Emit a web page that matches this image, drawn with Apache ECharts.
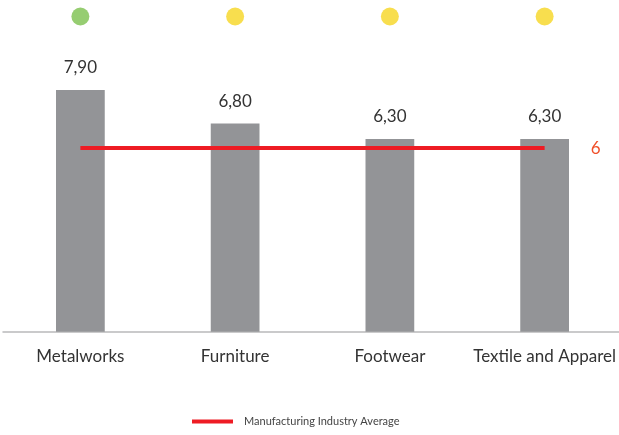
<!DOCTYPE html>
<html><head><meta charset="utf-8">
<script src="https://cdn.jsdelivr.net/npm/echarts@6/dist/echarts.min.js"></script>
<style>html,body{margin:0;padding:0;background:#fff}#c{width:619px;height:435px}</style>
</head><body><div id="c"></div>
<script>
const categories = ["Metalworks", "Furniture", "Footwear", "Textile and Apparel"];
const scores = [7.9, 6.8, 6.3, 6.3];
const industryAverage = [6, 6, 6, 6];
const statusColors = ["#7cc04e", "#f6d622", "#f6d622", "#f6d622"];
const statusLevel = [1, 1, 1, 1];
const averageName = "Manufacturing Industry Average";

const FONT = "Lato, 'Noto Sans', sans-serif";
const chart = echarts.init(document.getElementById('c'), null, {renderer: 'canvas'});
chart.setOption({
  animation: false,
  backgroundColor: '#ffffff',
  textStyle: {fontFamily: FONT},
  grid: {left: 3, width: 619, top: 16.5, bottom: 103.3, containLabel: false, outerBoundsMode: 'none'},
  xAxis: {
    type: 'category', data: categories,
    axisTick: {show: false},
    axisLine: {lineStyle: {color: '#b9b9bb', width: 1.5}},
    axisLabel: {color: '#333333', fontSize: 17, margin: 16, interval: 0, fontFamily: FONT}
  },
  yAxis: [
    {type: 'value', min: 0, max: 10.3, show: false, splitLine: {show: false}},
    {type: 'value', min: 0, max: 1, show: false, splitLine: {show: false}}
  ],
  legend: {
    bottom: 3, left: 187,
    data: [{name: averageName, icon: 'rect'}],
    itemWidth: 41, itemHeight: 4, itemGap: 10,
    textStyle: {fontSize: 11, color: '#444444', fontFamily: FONT, padding: [0, 0, 0, 6]}
  },
  series: [
    {
      type: 'bar', name: 'Score', data: scores, barWidth: '31.5%',
      itemStyle: {color: '#939497'},
      label: {
        show: true, position: 'top', distance: 14, fontSize: 17, color: '#333333', fontFamily: FONT,
        formatter: p => p.value.toFixed(2).replace('.', ',')
      },
      z: 1
    },
    {
      type: 'line', name: averageName, data: industryAverage, symbol: 'none',
      lineStyle: {color: '#ee1c24', width: 4},
      itemStyle: {color: '#ee1c24'},
      endLabel: {show: true, color: '#f0502a', fontSize: 17, distance: 46, fontFamily: FONT,
        formatter: p => String(p.value)},
      z: 3
    },
    {
      type: 'scatter', name: 'status', yAxisIndex: 1, symbolSize: 18,
      data: statusLevel.map((v, i) => ({value: v, itemStyle: {color: statusColors[i]}})),
      clip: false, z: 4
    }
  ]
});
</script></body></html>
